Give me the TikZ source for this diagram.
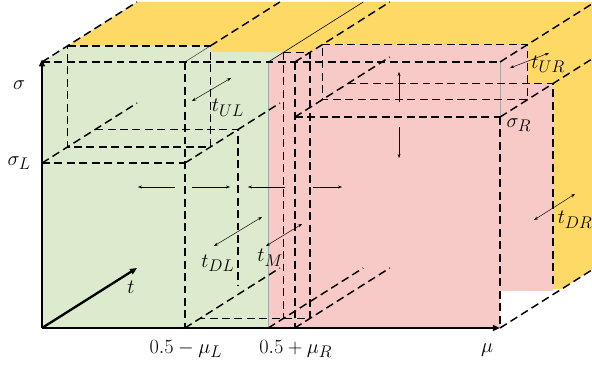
\documentclass[tikz,border=0pt]{standalone}
\definecolor{BoxGreen}{RGB}{220,235,205}
\definecolor{BoxPink}{RGB}{247,202,200}
\definecolor{BoxGold}{RGB}{255,217,102}
\usepackage{amsmath}
\usepackage{tikz}
\usetikzlibrary{arrows.meta}
% cut positions along mu, sigma and depths along t
\newcommand{\muLcut}{0.312}
\newcommand{\muHcut}{0.494}
\newcommand{\muRcut}{0.552}
\newcommand{\sigLcut}{0.620}
\newcommand{\sigRcut}{0.793}
\newcommand{\tULd}{0.27}
\newcommand{\tDLd}{0.56}
\newcommand{\tMd}{0.16}
\newcommand{\tURd}{0.29}
\newcommand{\tDRd}{0.56}

\begin{document}
\begin{tikzpicture}[
      x={(13.74cm,0cm)}, y={(0cm,7.98cm)}, z={(2.85cm,1.8cm)},
      every node/.style={font=\fontsize{19}{23}\selectfont},
      cutline/.style={line width=1.25pt, dash pattern=on 6.8pt off 3.8pt},
      axisarr/.style={line width=2pt, -{Triangle[length=6pt, width=5pt]}},
      tarr/.style={{Stealth[length=3.5pt]}-{Stealth[length=3.5pt]}, line width=0.4pt},
      marr/.style={-{Stealth[length=3.5pt]}, line width=0.4pt}
    ]
  \useasboundingbox (-1.26cm,-1.17cm) rectangle (16.5cm,9.84cm);

  % faces
  \fill[BoxGold] (0,1,0) -- (0,1,1) -- (1,1,1) -- (1,0,1) -- (1,0,0.65) -- (1,0.147,0) -- cycle;
  \fill[BoxGreen] (0,0,0) -- (0,1,0) -- (0,1,\tULd) -- (\muLcut,1,\tULd) -- (\muLcut,0.977,\tULd)
        -- (\muHcut,1,\tMd) -- (\muHcut,1,0) -- (\muHcut,0,0) -- cycle;
  \fill[BoxPink] (\muHcut,0,0) -- (\muHcut,1,0) -- (\muHcut,1,\tMd) -- (\muRcut,1,\tMd)
        -- (\muRcut,1,\tURd) -- (1,1,\tURd) -- (1,0.856,\tURd) -- (1,\sigRcut,\tDRd)
        -- (1,0.013,\tDRd) -- (1,0.139,0) -- (1,0,0) -- cycle;

  % thin solid borders
  \draw[gray!70, line width=0.8pt] (\muHcut,0,0) -- (\muHcut,1,0);
  \draw[gray!70, line width=0.6pt] (1,1,0) -- (1,\sigRcut,0);
  \draw[black!70, line width=0.5pt] (\muLcut,1,0) -- (\muLcut,1,\tULd);
  \draw[line width=0.5pt] (\muHcut,1,0) -- (\muHcut,1,1);

  % outer cube
  \draw[cutline] (0,1,0) -- (1,1,0);
  \draw[cutline] (1,\sigRcut,0) -- (1,0,0);
  \draw[cutline] (0,1,0) -- (0,1,1);
  \draw[cutline] (1,1,0) -- (1,1,1);
  \draw[cutline] (1,\sigRcut,0) -- (1,\sigRcut,1);
  \draw[cutline] (1,0,0) -- (1,0,1);

  % left cuts
  \draw[cutline] (0,\sigLcut,0) -- (0,\sigLcut,1);
  \draw[cutline] (0,\sigLcut,0) -- (\muLcut,\sigLcut,0);
  \draw[cutline] (\muLcut,1,0) -- (\muLcut,0,0);
  \draw[cutline] (\muLcut,\sigLcut,0) -- (\muLcut,\sigLcut,1);
  \draw[cutline] (\muLcut,0,0) -- (\muLcut,0,1);
  \draw[cutline] (\muLcut,1,\tULd) -- (\muLcut,1,1);

  % middle and right cuts
  \draw[cutline] (\muHcut,0,0) -- (\muHcut,0,1);
  \draw[cutline] (\muRcut,1,0) -- (\muRcut,0,0);
  \draw[cutline] (\muRcut,1,0) -- (\muRcut,1,1);
  \draw[cutline] (\muRcut,\sigRcut,0) -- (1,\sigRcut,0);
  \draw[cutline] (\muRcut,\sigRcut,0) -- (\muRcut,\sigRcut,1);
  \draw[cutline] (\muRcut,0,0) -- (\muRcut,0,1);

  % back faces of the boxes
  \draw[cutline] (0,1,\tULd) -- (\muLcut,1,\tULd) -- (\muLcut,\sigLcut,\tULd) -- (0,\sigLcut,\tULd) -- cycle;
  \draw[cutline] (0,\sigLcut,\tDLd) -- (\muLcut,\sigLcut,\tDLd) -- (\muLcut,0.03,\tDLd);
  \draw[cutline] (\muHcut,1,\tMd) -- (\muRcut,1,\tMd) -- (\muRcut,0,\tMd) -- (\muLcut,0,\tMd);
  \draw[cutline] (\muHcut,1,\tMd) -- (\muHcut,0,\tMd);
  \draw[cutline] (\muRcut,1,\tURd) -- (1,1,\tURd) -- (1,\sigRcut,\tURd) -- (\muRcut,\sigRcut,\tURd) -- cycle;
  \draw[cutline] (\muRcut,\sigRcut,\tDRd) -- (1,\sigRcut,\tDRd) -- (1,0.03,\tDRd);

  % axes
  \draw[axisarr] (0,0,0) -- (0,1.01,0);
  \draw[axisarr] (0,0,0) -- (1,0,0);
  \draw[axisarr] (0,0,0) -- (0,0,1);

  % depth arrows
  \draw[tarr] (0.3275,0.8534) -- (0.4127,0.9398);
  \draw[tarr] (0.3755,0.3083) -- (0.4803,0.4173);
  \draw[tarr] (0.4891,0.3083) -- (0.5677,0.3910);
  \draw[tarr] (1.0218,0.9774) -- (1.1070,1.0338);
  \draw[tarr] (1.0742,0.4060) -- (1.1638,0.5038);

  % moving cuts
  \draw[marr] (0.2904,0.5301) -- (0.2096,0.5301);
  \draw[marr] (0.3275,0.5301) -- (0.4105,0.5301);
  \draw[marr] (0.5306,0.5301) -- (0.4498,0.5301);
  \draw[marr] (0.5917,0.5301) -- (0.6550,0.5301);
  \draw[marr] (0.7795,0.8496) -- (0.7795,0.9624);
  \draw[marr] (0.7795,0.7556) -- (0.7795,0.6391);

  % labels
  \node (sig) at (-0.050,0.914) {$\sigma$};
  \node (sigL) at (-0.050,0.620) {$\sigma_L$};
  \node (tUL) at (0.406,0.827) {$t_{UL}$};
  \node (tlab) at (0.194,0.154) {$t$};
  \node (tDL) at (0.384,0.243) {$t_{DL}$};
  \node (tM) at (0.498,0.263) {$t_M$};
  \node (muL) at (0.314,-0.079) {$0.5-\mu_L$};
  \node (muR) at (0.554,-0.079) {$0.5+\mu_R$};
  \node (mu) at (0.972,-0.083) {$\mu$};
  \node (sigR) at (1.041,0.763) {$\sigma_R$};
  \node (tUR) at (1.105,0.992) {$t_{UR}$};
  \node (tDR) at (1.164,0.406) {$t_{DR}$};
\end{tikzpicture}
\end{document}
